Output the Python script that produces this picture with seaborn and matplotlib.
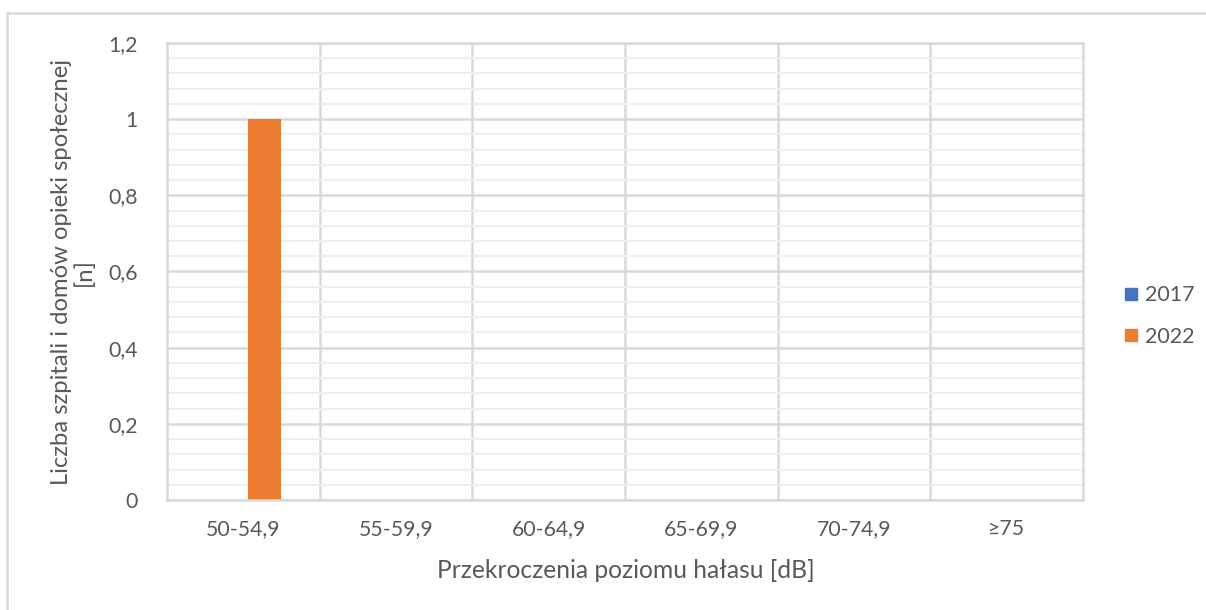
import matplotlib
matplotlib.use("Agg")
import matplotlib.pyplot as plt
from matplotlib.ticker import MultipleLocator, FuncFormatter
from matplotlib.lines import Line2D
import seaborn as sns
import pandas as pd

# Noise exceedance ranges and counts per year
categories = ["50-54,9", "55-59,9", "60-64,9", "65-69,9", "70-74,9", "≥75"]
years = ["2017", "2022"]
values_2017 = [0, 0, 0, 0, 0, 0]
values_2022 = [1, 0, 0, 0, 0, 0]
colors = ["#4472C4", "#ED7D31"]

df = pd.DataFrame({
    "zakres": categories * 2,
    "rok": [years[0]] * len(categories) + [years[1]] * len(categories),
    "liczba": values_2017 + values_2022,
})

sns.set_theme(style="white")
plt.rcParams["font.family"] = ["Lato", "DejaVu Sans"]
text_color = "#595959"
grid_major = "#d9d9d9"
grid_minor = "#efefef"

fig = plt.figure(figsize=(12.06, 6.10), dpi=100)
ax = fig.add_axes([167 / 1206, 1 - 500 / 610, (1083 - 167) / 1206, (500 - 43) / 610])

# series are spaced apart with a gap, so dodge wide and then narrow each bar
sns.barplot(data=df, x="zakres", y="liczba", hue="rok", palette=colors,
            width=0.556, dodge=True, ax=ax, legend=False, saturation=1,
            order=categories, hue_order=years)
bar_width = 0.216
for p in ax.patches:
    cx = p.get_x() + p.get_width() / 2
    p.set_width(bar_width)
    p.set_x(cx - bar_width / 2)
    p.set_linewidth(0)

ax.set_ylim(0, 1.2)
ax.set_xlim(-0.5, len(categories) - 0.5)
ax.yaxis.set_major_locator(MultipleLocator(0.2))
ax.yaxis.set_minor_locator(MultipleLocator(0.04))
ax.yaxis.set_major_formatter(FuncFormatter(lambda v, p: f"{v:.1f}".replace(".", ",").replace(",0", "")))

ax.set_axisbelow(True)
ax.grid(axis="y", which="minor", color=grid_minor, linewidth=1.6)
ax.grid(axis="y", which="major", color=grid_major, linewidth=1.8)
for b in range(1, len(categories)):
    ax.axvline(b - 0.5, color=grid_major, linewidth=1.8, zorder=0.5)

for s in ax.spines.values():
    s.set_color(grid_major)
    s.set_linewidth(1.8)

ax.tick_params(axis="both", which="both", length=0, labelsize=15.3, colors=text_color)
ax.tick_params(axis="y", pad=21)
ax.tick_params(axis="x", pad=14)

ax.set_xlabel("")
ax.set_ylabel("")
fig.text(626 / 1206, 1 - 571 / 610, "Przekroczenia poziomu hałasu [dB]", ha="center", va="center",
         fontsize=17.7, color=text_color)
fig.text(73 / 1206, 1 - 272 / 610, "Liczba szpitali i domów opieki społecznej\n[n]",
         ha="center", va="center", rotation=90, fontsize=17.2, color=text_color, linespacing=1.1)

handles = [Line2D([0], [0], marker="s", linestyle="", markersize=9,
                  markerfacecolor=c, markeredgecolor=c) for c in colors]
leg = fig.legend(handles, years, loc="center left", bbox_to_anchor=(1101 / 1206, 1 - 316 / 610),
                 frameon=False, fontsize=15.5, handletextpad=0.15, labelspacing=1.0,
                 handlelength=1.0, labelcolor=text_color)

# outer chart border (left and top edges)
fig.add_artist(Line2D([7 / 1206, 7 / 1206], [0, 1 - 13 / 610], transform=fig.transFigure,
                      color=grid_major, linewidth=1.8))
fig.add_artist(Line2D([7 / 1206, 1], [1 - 13 / 610, 1 - 13 / 610], transform=fig.transFigure,
                      color=grid_major, linewidth=1.8))

fig.savefig("out.png", dpi=100, facecolor="white")
